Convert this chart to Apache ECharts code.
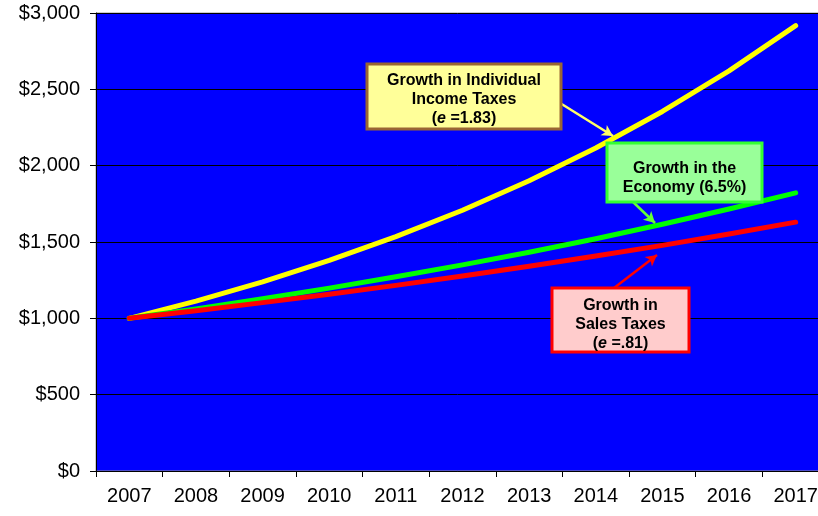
<!DOCTYPE html>
<html>
<head>
<meta charset="utf-8">
<script src="https://cdn.jsdelivr.net/npm/echarts@6/dist/echarts.min.js"></script>
<style>html,body{margin:0;padding:0;background:#fff;}#c{width:818px;height:516px;}</style>
</head>
<body>
<div id="c"></div>
<script>
const years = ['2007','2008','2009','2010','2011','2012','2013','2014','2015','2016','2017'];
const individualIncomeTaxes = [1000, 1113, 1239, 1379, 1535, 1708, 1901, 2116, 2355, 2621, 2917];
const economy = [1000, 1062, 1128, 1198, 1272, 1350, 1433, 1521, 1616, 1716, 1822];
const salesTaxes = [1000, 1050, 1103, 1158, 1216, 1277, 1341, 1408, 1478, 1552, 1630];
const yTicks = [0, 500, 1000, 1500, 2000, 2500, 3000];

const chart = echarts.init(document.getElementById('c'));
const FONT = 'Liberation Sans, Arial, sans-serif';

function box(left, top, w, h, fill, stroke, text, textCy) {
  return {
    type: 'group',
    z: 100,
    children: [
      { type: 'rect', z: 100, shape: { x: left, y: top, width: w, height: h },
        style: { fill: fill, stroke: stroke, lineWidth: 3 } },
      { type: 'text', z: 101, x: left + w / 2, y: textCy,
        style: {
          text: text,
          fill: '#000',
          font: 'bold 16px ' + FONT,
          align: 'center', verticalAlign: 'middle',
          lineHeight: 19,
          rich: {
            n: { fontFamily: FONT, fontWeight: 'bold', fontSize: 16, lineHeight: 19, fill: '#000' },
            e: { fontFamily: FONT, fontWeight: 'bold', fontStyle: 'italic', fontSize: 16, lineHeight: 19, fill: '#000' }
          }
        } }
    ]
  };
}

function arrow(x1, y1, x2, y2, color) {
  return [{ x: x1, y: y1, lineStyle: { color: color } }, { x: x2, y: y2 }];
}

const option = {
  animation: false,
  backgroundColor: '#fff',
  grid: { left: 96, width: 733, top: 13, bottom: 45, show: true, backgroundColor: '#0000FF', borderColor: '#999', borderWidth: 1,
    containLabel: false, outerBoundsMode: 'none' },
  xAxis: {
    type: 'category', data: years, boundaryGap: true,
    axisLine: { show: true, lineStyle: { color: '#000', width: 1 } },
    axisTick: { show: true, length: 6, lineStyle: { color: '#000' } },
    axisLabel: { color: '#000', fontSize: 20, fontFamily: FONT, margin: 15, hideOverlap: false },
    splitLine: { show: false }
  },
  yAxis: {
    type: 'value', min: yTicks[0], max: yTicks[yTicks.length - 1], interval: 500,
    axisLine: { show: true, lineStyle: { color: '#000', width: 1 } },
    axisTick: { show: true, length: 6, lineStyle: { color: '#000' } },
    axisLabel: { color: '#000', fontSize: 20, fontFamily: FONT, margin: 16,
      formatter: v => '$' + v.toLocaleString('en-US') },
    splitLine: { show: true, lineStyle: { color: '#000', width: 1 } }
  },
  series: [
    { name: 'Individual Income Taxes', type: 'line', data: individualIncomeTaxes, symbol: 'none',
      lineStyle: { color: '#FFFF00', width: 5, cap: 'round', join: 'round' }, z: 3,
      markLine: { silent: true, symbol: ['none', 'arrow'], symbolSize: [9, 11], label: { show: false },
        lineStyle: { type: 'solid', width: 2.5, color: '#FFFF66' },
        data: [arrow(560, 103, 613, 136, '#FFFF66')] } },
    { name: 'Economy', type: 'line', data: economy, symbol: 'none',
      lineStyle: { color: '#00FF00', width: 5, cap: 'round', join: 'round' }, z: 4,
      markLine: { silent: true, symbol: ['none', 'arrow'], symbolSize: [9, 11], label: { show: false },
        lineStyle: { type: 'solid', width: 2.5, color: '#66FF33' },
        data: [arrow(632, 201, 655, 223, '#66FF33')] } },
    { name: 'Sales Taxes', type: 'line', data: salesTaxes, symbol: 'none',
      lineStyle: { color: '#FF0000', width: 5, cap: 'round', join: 'round' }, z: 5,
      markLine: { silent: true, symbol: ['none', 'arrow'], symbolSize: [9, 11], label: { show: false },
        lineStyle: { type: 'solid', width: 2.5, color: '#FF0000' },
        data: [arrow(614, 288, 657, 255, '#FF0000')] } }
  ],
  graphic: [
    box(367, 64, 194, 65, '#FFFF99', '#996633',
      '{n|Growth in Individual}\n{n|Income Taxes}\n{n|(}{e|e}{n| =1.83)}', 100),
    box(607, 143, 155, 59, '#99FF99', '#33FF33',
      '{n|Growth in the}\n{n|Economy (6.5%)}', 178),
    box(552, 288, 137, 64, '#FFCCCC', '#FF0000',
      '{n|Growth in}\n{n|Sales Taxes}\n{n|(}{e|e}{n| =.81)}', 325)
  ]
};
chart.setOption(option);
</script>
</body>
</html>
